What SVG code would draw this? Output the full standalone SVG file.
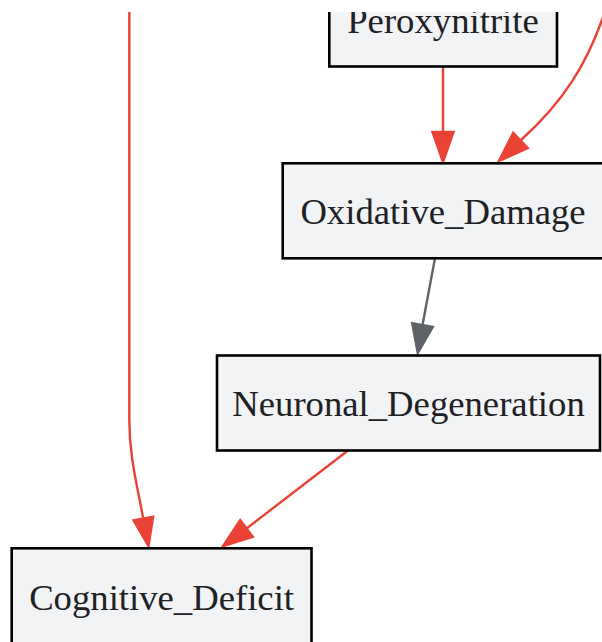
<svg xmlns="http://www.w3.org/2000/svg" width="602" height="642" viewBox="0 0 602 642">
<style>
.node rect{fill:#f1f3f4;stroke:#000000;stroke-width:2.6}
.node text{font-family:"Liberation Serif","Times New Roman",serif;font-size:36.7px;fill:#202124;text-anchor:middle}
.edge path{fill:none;stroke-width:2.4}
.red path{stroke:#ea4335}
.red polygon{fill:#ea4335;stroke:#ea4335;stroke-width:2.4;stroke-linejoin:miter}
.gray path{stroke:#5f6368}
.gray polygon{fill:#5f6368;stroke:#5f6368;stroke-width:2.4;stroke-linejoin:miter}
</style>
<defs>
<clipPath id="view"><rect x="0" y="12" width="602" height="630"/></clipPath>
</defs>
<rect x="0" y="0" width="602" height="642" fill="#ffffff"/>
<g clip-path="url(#view)">
<g id="connectors">
<g class="edge red" id="e_left_cognitive">
<path d="M129.3,0 L129.3,420 C129.3,455 136,480 143.3,518.6"/>
<polygon points="148.5,546 153.1,516.8 133.5,520.4"/>
</g>
<g class="edge red" id="e_peroxynitrite_oxidative">
<path d="M443,66.5 L443,132"/>
<polygon points="443,162 453.5,132 432.5,132"/>
</g>
<g class="edge red" id="e_right_oxidative">
<path d="M610,-5 C590,65 560,105 520.5,140.5"/>
<polygon points="499,161 527.8,148.1 513.2,132.9"/>
</g>
<g class="edge gray" id="e_oxidative_neuronal">
<path d="M435,258.3 L422.5,325"/>
<polygon points="417.8,353 432.8,326.8 412.2,323.2"/>
</g>
<g class="edge red" id="e_neuronal_cognitive">
<path d="M348,450.5 L246.5,528.5"/>
<polygon points="223,546 252.8,536.9 240.2,520.1"/>
</g>
</g>
<g class="node" id="Peroxynitrite">
<rect x="329.3" y="-28.5" width="227.7" height="95"/>
<text x="443" y="32.5">Peroxynitrite</text>
</g>
<g class="node" id="Oxidative_Damage">
<rect x="282.7" y="163.3" width="320.6" height="95"/>
<text x="443" y="223.5">Oxidative_Damage</text>
</g>
<g class="node" id="Neuronal_Degeneration">
<rect x="217" y="355.5" width="383" height="95"/>
<text x="408.5" y="416">Neuronal_Degeneration</text>
</g>
<g class="node" id="Cognitive_Deficit">
<rect x="11.7" y="548.3" width="299.8" height="95"/>
<text x="161.6" y="609.5">Cognitive_Deficit</text>
</g>
</g>
</svg>
